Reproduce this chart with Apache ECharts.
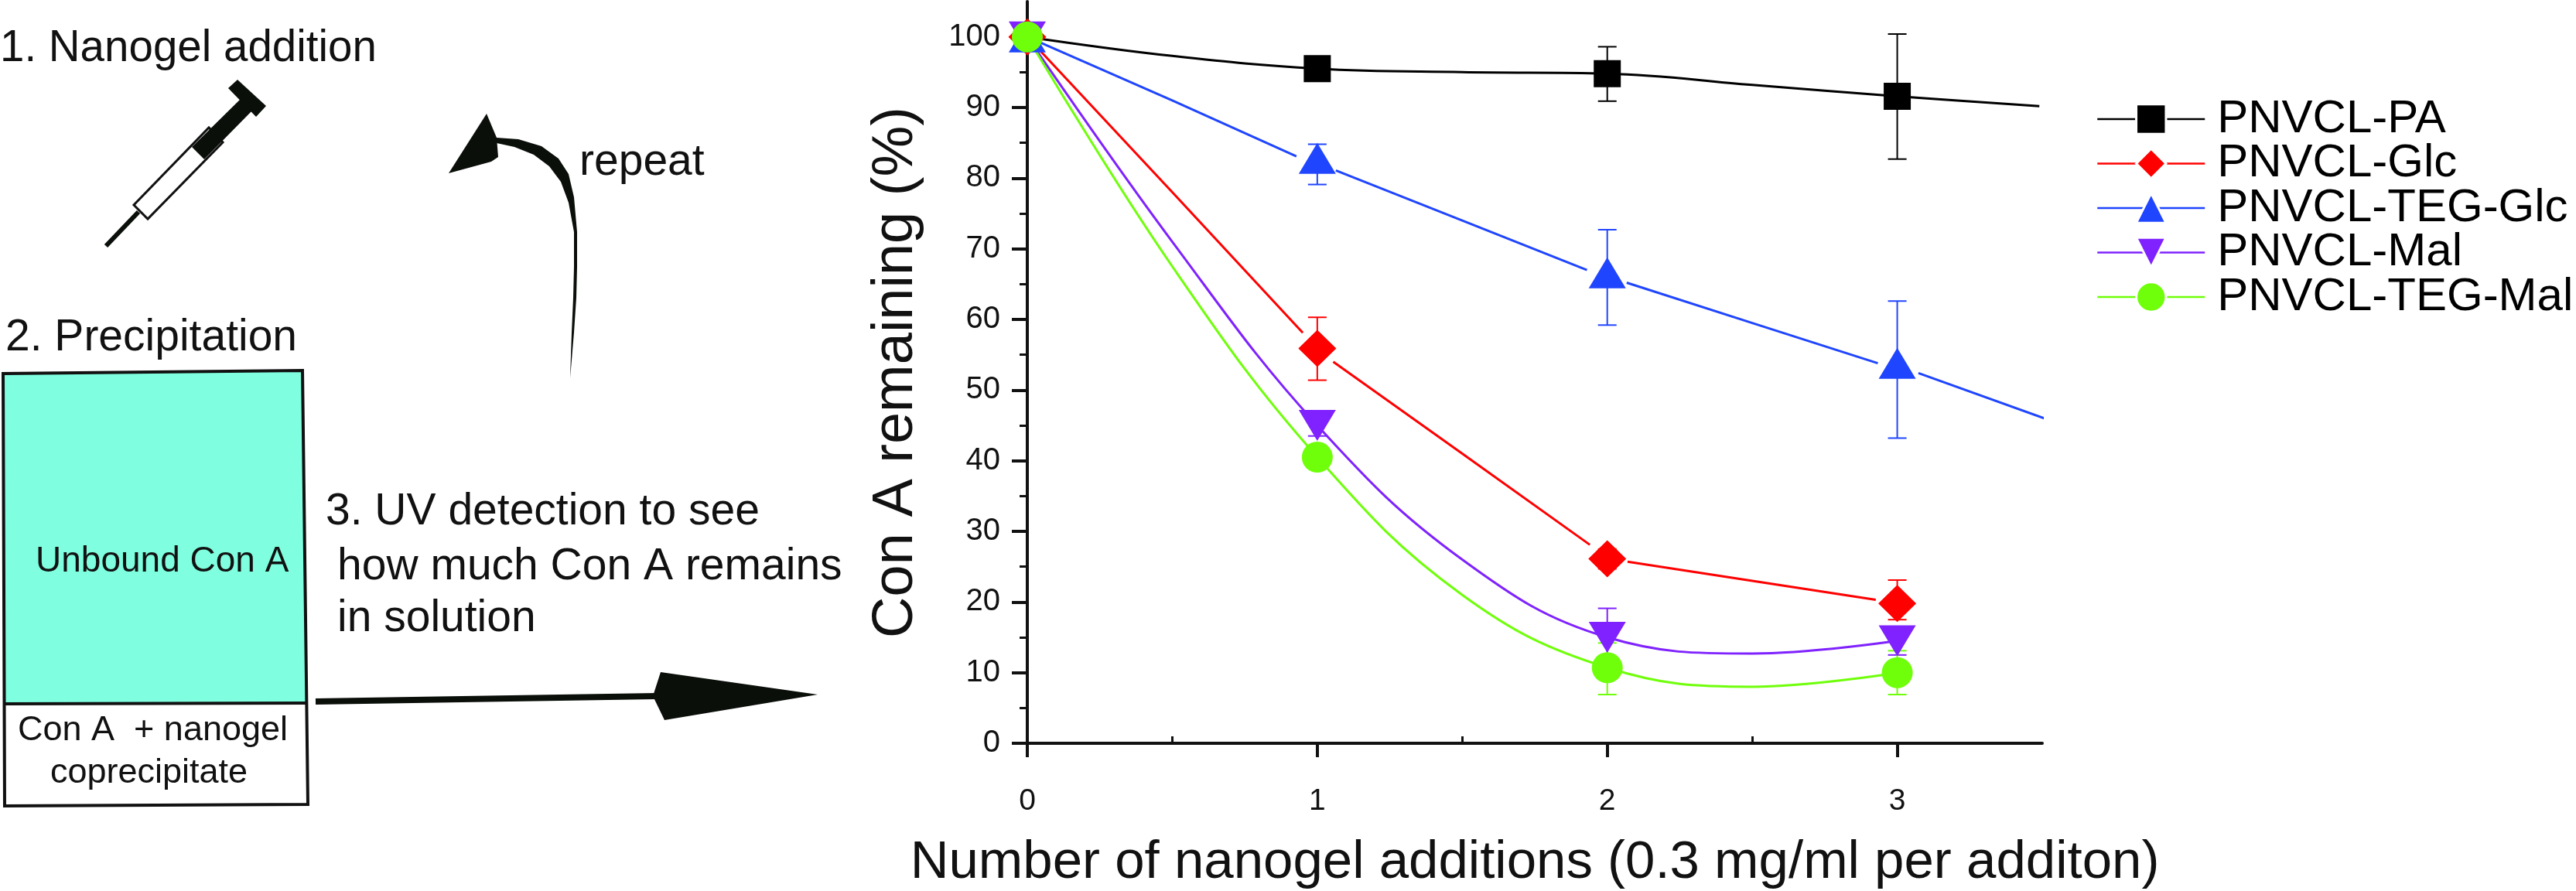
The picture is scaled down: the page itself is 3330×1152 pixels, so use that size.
<!DOCTYPE html>
<html><head><meta charset="utf-8">
<style>html,body{margin:0;padding:0;background:#fff}#c{width:3330px;height:1152px}</style>
<script src="https://cdn.jsdelivr.net/npm/echarts@6/dist/echarts.min.js"></script>
</head><body><div id="c"></div>
<script>
const names = ['PNVCL-PA','PNVCL-Glc','PNVCL-TEG-Glc','PNVCL-Mal','PNVCL-TEG-Mal'];
const colors = ['#000000','#FF0000','#1F45FF','#7F22FF','#6FFF0A'];
const additions = [0,1,2,3];
const valuesPA = [100,95.5,94.8,91.6];
const valuesGlc = [100,55.9,26.1,19.8];
const valuesTegGlc = [100,82.8,66.6,53.8];
const valuesMal = [100,45,15,14.5];
const valuesTegMal = [100,40.5,10.7,10];
const upperPA = [100,96.5,98.6,100.4];
const lowerPA = [100,94.5,90.9,82.7];
const upperGlc = [100,60.3,27.5,23.1];
const lowerGlc = [100,51.4,24.7,17.5];
const upperTegGlc = [100,84.8,72.7,62.6];
const lowerTegGlc = [100,79.1,59.2,43.2];
const upperMal = [100,46.5,19.1,16.5];
const lowerMal = [100,43.5,11,12.5];
const upperTegMal = [100,41.5,14.2,13.1];
const lowerTegMal = [100,39.5,6.9,6.9];
const curvePA = [[0,100],[0.5,97.3],[1,95.5],[1.5,95],[2,94.8],[2.5,93.2],[3,91.6],[3.49,90.2]];
const curveGlc = [[0,100],[0.5,78],[0.95,58.1],null,[1.055,54],[1.5,41],[1.94,28.1],null,[2.07,25.7],[2.5,23],[2.926,20.3]];
const curveTegGlc = [[0,100],[0.5,91],[0.928,83.1],null,[1.064,81.1],[1.5,74],[1.93,67],null,[2.067,65.2],[2.5,59.5],[2.933,53.8],null,[3.073,52.4],[3.52,45.8]];
const curveMal = [[0,100],[0.5,71],[1,45],[1.5,26],[2,15],[2.5,12.7],[3,14.5]];
const curveTegMal = [[0,100],[0.5,67.5],[1,40.5],[1.5,21],[2,10.7],[2.5,8],[3,10]];
const xTicks = [0,1,2,3];
const xMinorTicks = [0.5,1.5,2.5];
const yTicks = [0,10,20,30,40,50,60,70,80,90,100];
const yMinorTicks = [5,15,25,35,45,55,65,75,85,95];

const allValues = [valuesPA,valuesGlc,valuesTegGlc,valuesMal,valuesTegMal];
const allUpper = [upperPA,upperGlc,upperTegGlc,upperMal,upperTegMal];
const allLower = [lowerPA,lowerGlc,lowerTegGlc,lowerMal,lowerTegMal];
const allCurves = [curvePA,curveGlc,curveTegGlc,curveMal,curveTegMal];
const symbols = ['rect','diamond','triangle','triangle','circle'];
const sizes = [35,[49,48],[48,40],[48,40],40];
const rotates = [0,0,0,180,0];
const smoothing = [0.4,0,0,0.4,0.4];

const FONT = '"Liberation Sans", Arial, sans-serif';
function label(text,x,y,size){
  return {type:'text',silent:true,style:{text,x,y,fill:'#111',font:size+'px '+FONT,textVerticalAlign:'middle'}};
}
function poly(points,fill,stroke,lw){
  return {type:'polygon',silent:true,shape:{points},style:{fill:fill||'none',stroke:stroke||'none',lineWidth:lw||0}};
}
function seg(a,b,c,d,w,col){
  return {type:'line',silent:true,shape:{x1:a,y1:b,x2:c,y2:d},style:{stroke:col||'#0a0f0a',lineWidth:w}};
}
const graphics = [
  label('1. Nanogel addition',0,63,56.5),
  label('2. Precipitation',7,437,57),
  label('repeat',749,210,57),
  label('3. UV detection to see',421,662,57),
  label('how much Con A remains',436,733,57),
  label('in solution',436,800,57),
  poly([[4,483],[391,479],[396,909],[7,910]],'#7FFFDF'),
  poly([[4,483],[391,479],[398,1040],[6,1042]],'none','#111',4),
  seg(7,910,396,909,4,'#111'),
  label('Unbound Con A',46,726,46),
  label('Con A  + nanogel',23,945,45),
  label('coprecipitate',65,1000,45),
  seg(137,318,179,274,6),
  poly([[173,265],[191,283],[288,184],[270,165]],'#fff','#111',3),
  poly([[248,190],[264,206],[326,143],[312,127]],'#0a0f0a'),
  poly([[307,103],[344,137],[331,151],[295,114]],'#0a0f0a'),
  poly([[629,147],[580,224],[635,209],[644,203],[642,178]],'#0a0f0a'),
  poly([[642,178],[670,180],[700,189],[722,205],[735,225],[742,255],[746,300],[746,345],[745,385],[742,430],[737,489],[739,430],[741,385],[742,345],[742,300],[735,262],[725,235],[710,215],[690,200],[665,190],[642,185]],'#0a0f0a'),
  seg(408,907,849,900,8),
  poly([[854,869],[1057,898],[859,931],[844,900]],'#0a0f0a')
];

const series = [];
names.forEach((name,i)=>{
  series.push({name,type:'line',z:5+i,clip:false,symbol:symbols[i],symbolSize:sizes[i],symbolRotate:rotates[i],showSymbol:true,
    itemStyle:{color:colors[i]},lineStyle:{width:0,color:colors[i]},animation:false,silent:true,
    data:additions.map((x,k)=>[x,allValues[i][k]])});
  series.push({type:'line',z:3,clip:false,smooth:smoothing[i],symbol:'none',showSymbol:false,connectNulls:false,animation:false,silent:true,
    lineStyle:{color:colors[i],width:3},itemStyle:{color:colors[i]},
    data:allCurves[i].map(p=>p===null?[null,null]:p)});
  series.push({type:'custom',z:2,silent:true,animation:false,clip:false,
    data:additions.map((x,k)=>[x,allUpper[i][k],allLower[i][k]]),
    encode:{x:0,y:[1,2]},
    renderItem(params,api){
      const x=api.value(0);
      const a=api.coord([x,api.value(1)]), b=api.coord([x,api.value(2)]);
      const st={stroke:colors[i],lineWidth:2,fill:'none'};
      return {type:'group',children:[
        {type:'line',shape:{x1:a[0],y1:a[1],x2:b[0],y2:b[1]},style:st},
        {type:'line',shape:{x1:a[0]-12,y1:a[1],x2:a[0]+12,y2:a[1]},style:st},
        {type:'line',shape:{x1:b[0]-12,y1:b[1],x2:b[0]+12,y2:b[1]},style:st}
      ]};
    }});
});

const axisCol = '#111';
const option = {
  backgroundColor:'#fff',
  animation:false,
  textStyle:{fontFamily:FONT},
  grid:{left:1328,top:2,width:1312,height:959,containLabel:false,outerBoundsMode:'none'},
  legend:{show:true,orient:'vertical',left:2710,top:124,padding:0,itemWidth:139,itemHeight:48,itemGap:-2.5,selectedMode:false,
    textStyle:{fontSize:60,lineHeight:57.5,height:57.5,color:'#000',fontFamily:FONT,padding:[0,0,0,11]},
    data:names.map((name,i)=>({name,
      itemStyle:{color:colors[i],borderColor:'#fff',borderWidth:3},
      lineStyle:{color:colors[i],width:2.5,opacity:1}}))},
  xAxis:[
    {type:'value',min:0,max:3.5,interval:1,splitLine:{show:false},
     name:'Number of nanogel additions (0.3 mg/ml per additon)',nameLocation:'middle',nameGap:120,
     nameTextStyle:{fontSize:69,color:'#111',fontFamily:FONT},
     axisLine:{show:true,onZero:false,lineStyle:{color:axisCol,width:4}},
     axisTick:{show:true,length:18,customValues:xTicks,lineStyle:{color:axisCol,width:4}},
     axisLabel:{show:true,customValues:xTicks,margin:56,fontSize:39,color:'#111',fontFamily:FONT}},
    {type:'value',min:0,max:3.5,interval:1,splitLine:{show:false},
     axisLine:{show:false},axisLabel:{show:false},
     axisTick:{show:true,length:9,customValues:xMinorTicks,lineStyle:{color:axisCol,width:3}}}
  ],
  yAxis:[
    {type:'value',min:0,max:105,interval:10,splitLine:{show:false},
     name:'Con A remaining (%)',nameLocation:'middle',nameGap:132,nameRotate:90,
     nameTextStyle:{fontSize:74,color:'#111',fontFamily:FONT},
     axisLine:{show:true,onZero:false,lineStyle:{color:axisCol,width:4}},
     axisTick:{show:true,length:20,customValues:yTicks,lineStyle:{color:axisCol,width:4}},
     axisLabel:{show:true,customValues:yTicks,margin:35,fontSize:40,color:'#111',fontFamily:FONT}},
    {type:'value',min:0,max:105,interval:10,splitLine:{show:false},position:'left',
     axisLine:{show:false},axisLabel:{show:false},
     axisTick:{show:true,length:10,customValues:yMinorTicks,lineStyle:{color:axisCol,width:3}}}
  ],
  graphic:graphics,
  series
};
echarts.init(document.getElementById('c'),null,{renderer:'canvas'}).setOption(option);
</script></body></html>
